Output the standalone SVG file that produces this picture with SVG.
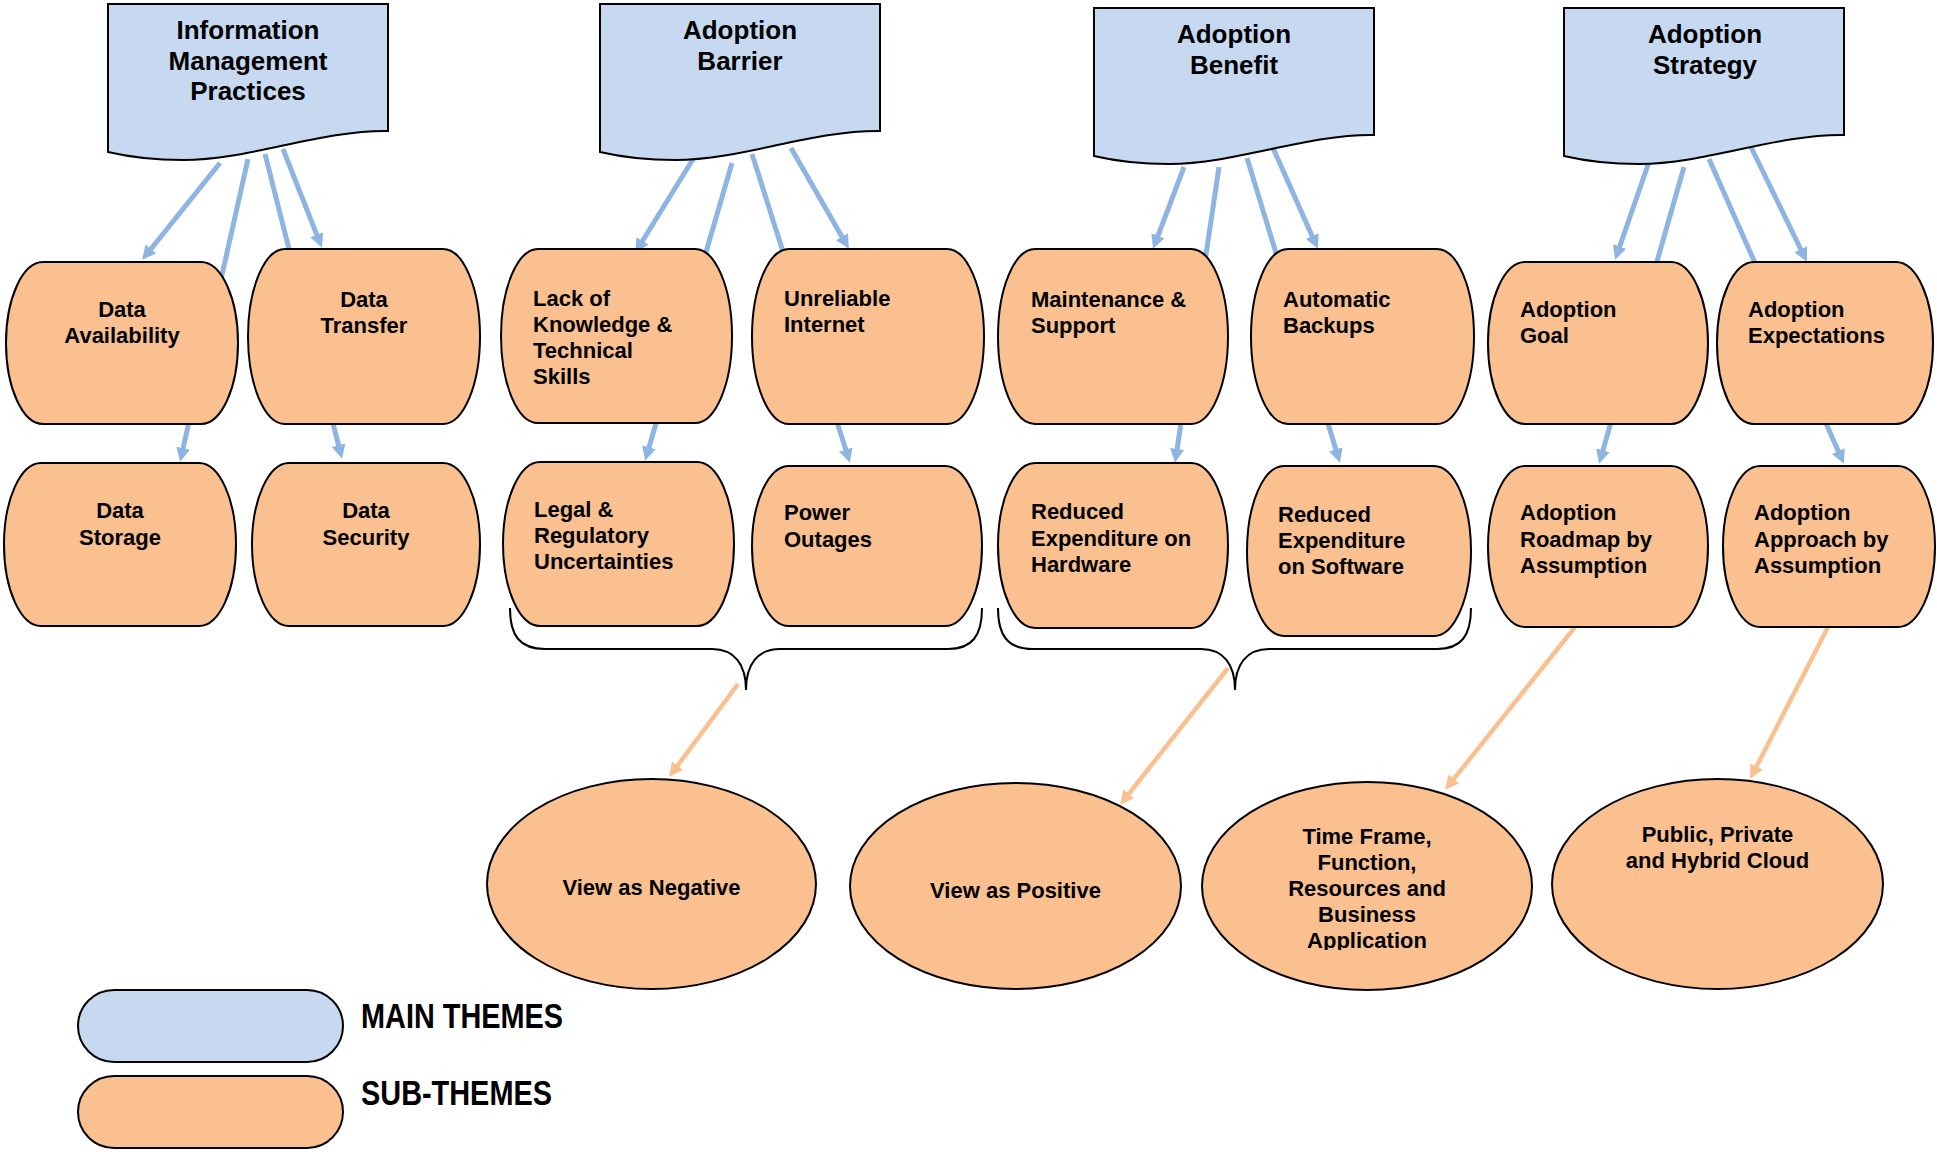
<svg xmlns="http://www.w3.org/2000/svg" width="1937" height="1152" viewBox="0 0 1937 1152">
  <style>
    .main { fill: #C6D9F1; stroke: #000; stroke-width: 2; }
    .sub { fill: #FAC090; stroke: #000; stroke-width: 2; }
    .t { font-family: "Liberation Sans", Arial, sans-serif; font-weight: bold; fill: #000; }
    .h { font-size: 26px; text-anchor: middle; }
    .s { font-size: 22px; }
    .c { text-anchor: middle; }
    .lg { font-size: 35px; }
    .blue { stroke: #8EB4E3; stroke-width: 5; fill: none; }
    .orange { stroke: #FAC090; stroke-width: 4.5; fill: none; }
    .brace { stroke: #000; stroke-width: 2; fill: none; }
  </style>
  <defs>
    <marker id="arrowBlue" viewBox="0 0 10 10" refX="3" refY="5" markerUnits="userSpaceOnUse" markerWidth="14" markerHeight="14" orient="auto">
      <path d="M0,0 L10,5 L0,10 Z" fill="#8EB4E3"/>
    </marker>
    <marker id="arrowOrange" viewBox="0 0 10 10" refX="3" refY="5" markerUnits="userSpaceOnUse" markerWidth="14" markerHeight="14" orient="auto">
      <path d="M0,0 L10,5 L0,10 Z" fill="#FAC090"/>
    </marker>
    <!-- document shape with wavy bottom -->
    <path id="doc" d="M0,0 H280 V127 C212,126 142,156 75,156 C42,156 17,152 0,148 Z"/>
    <clipPath id="clipTime">
      <rect x="1200" y="780" width="340" height="170"/>
    </clipPath>
  </defs>

  <rect width="1937" height="1152" fill="#fff"/>

  <!-- connectors (drawn under the nodes) -->
  <g id="connectors">
    <line class="blue" x1="220" y1="163" x2="148.3" y2="252.2" marker-end="url(#arrowBlue)"/>
    <line class="blue" x1="248" y1="159" x2="182.2" y2="452.2" marker-end="url(#arrowBlue)"/>
    <line class="blue" x1="265" y1="154" x2="339.6" y2="449.3" marker-end="url(#arrowBlue)"/>
    <line class="blue" x1="283" y1="149" x2="318.3" y2="238.7" marker-end="url(#arrowBlue)"/>

    <line class="blue" x1="698" y1="151" x2="640.3" y2="244.5" marker-end="url(#arrowBlue)"/>
    <line class="blue" x1="732" y1="163" x2="647.8" y2="451.4" marker-end="url(#arrowBlue)"/>
    <line class="blue" x1="752" y1="154" x2="847.0" y2="453.5" marker-end="url(#arrowBlue)"/>
    <line class="blue" x1="791" y1="148" x2="844.0" y2="240.3" marker-end="url(#arrowBlue)"/>

    <line class="blue" x1="1184" y1="167" x2="1156.5" y2="239.6" marker-end="url(#arrowBlue)"/>
    <line class="blue" x1="1219" y1="167" x2="1176.5" y2="453.1" marker-end="url(#arrowBlue)"/>
    <line class="blue" x1="1247" y1="158" x2="1337.1" y2="453.4" marker-end="url(#arrowBlue)"/>
    <line class="blue" x1="1273" y1="148" x2="1313.9" y2="239.9" marker-end="url(#arrowBlue)"/>

    <line class="blue" x1="1649" y1="162" x2="1618.3" y2="250.5" marker-end="url(#arrowBlue)"/>
    <line class="blue" x1="1684" y1="167" x2="1601.8" y2="454.4" marker-end="url(#arrowBlue)"/>
    <line class="blue" x1="1709" y1="159" x2="1840.0" y2="454.9" marker-end="url(#arrowBlue)"/>
    <line class="blue" x1="1749" y1="143" x2="1802.6" y2="253.0" marker-end="url(#arrowBlue)"/>

    <!-- braces grouping the lower pairs -->
    <path class="brace" d="M510,608 C510,636 520,649 545,649 H712 C735,649 746,665 746,690 C746,665 757,649 780,649 H948 C972,649 982,636 982,608"/>
    <path class="brace" d="M998,608 C998,636 1008,649 1033,649 H1201 C1224,649 1235,665 1235,690 C1235,665 1246,649 1269,649 H1437 C1461,649 1471,636 1471,608"/>

    <line class="orange" x1="738" y1="684" x2="675.0" y2="769.0" marker-end="url(#arrowOrange)"/>
    <line class="orange" x1="1228" y1="668" x2="1126.2" y2="797.1" marker-end="url(#arrowOrange)"/>
    <line class="orange" x1="1575" y1="627" x2="1451.2" y2="782.2" marker-end="url(#arrowOrange)"/>
    <line class="orange" x1="1828" y1="627" x2="1754.6" y2="770.1" marker-end="url(#arrowOrange)"/>
  </g>

  <!-- main themes -->
  <g id="info-management">
    <use href="#doc" class="main" transform="translate(108,4)"/>
    <text class="t h" x="248" y="39">Information</text>
    <text class="t h" x="248" y="70">Management</text>
    <text class="t h" x="248" y="100">Practices</text>
  </g>
  <g id="adoption-barrier">
    <use href="#doc" class="main" transform="translate(600,4)"/>
    <text class="t h" x="740" y="39">Adoption</text>
    <text class="t h" x="740" y="70">Barrier</text>
  </g>
  <g id="adoption-benefit">
    <use href="#doc" class="main" transform="translate(1094,8)"/>
    <text class="t h" x="1234" y="43">Adoption</text>
    <text class="t h" x="1234" y="74">Benefit</text>
  </g>
  <g id="adoption-strategy">
    <use href="#doc" class="main" transform="translate(1564,8)"/>
    <text class="t h" x="1705" y="43">Adoption</text>
    <text class="t h" x="1705" y="74">Strategy</text>
  </g>

  <!-- sub-themes -->
  <g id="data-availability">
    <rect class="sub" x="6" y="262" width="232" height="162" rx="37" ry="100"/>
    <text class="t s c" x="122" y="317">Data</text>
    <text class="t s c" x="122" y="343">Availability</text>
  </g>
  <g id="data-transfer">
    <rect class="sub" x="248" y="249" width="232" height="175" rx="37" ry="100"/>
    <text class="t s c" x="364" y="307">Data</text>
    <text class="t s c" x="364" y="333">Transfer</text>
  </g>
  <g id="data-storage">
    <rect class="sub" x="4" y="463" width="232" height="163" rx="37" ry="100"/>
    <text class="t s c" x="120" y="518">Data</text>
    <text class="t s c" x="120" y="545">Storage</text>
  </g>
  <g id="data-security">
    <rect class="sub" x="252" y="463" width="228" height="163" rx="37" ry="100"/>
    <text class="t s c" x="366" y="518">Data</text>
    <text class="t s c" x="366" y="545">Security</text>
  </g>

  <g id="lack-of-knowledge">
    <rect class="sub" x="501" y="249" width="231" height="174" rx="37" ry="100"/>
    <text class="t s" x="533" y="306">Lack of</text>
    <text class="t s" x="533" y="332">Knowledge &amp;</text>
    <text class="t s" x="533" y="358">Technical</text>
    <text class="t s" x="533" y="384">Skills</text>
  </g>
  <g id="unreliable-internet">
    <rect class="sub" x="752" y="249" width="232" height="175" rx="37" ry="100"/>
    <text class="t s" x="784" y="306">Unreliable</text>
    <text class="t s" x="784" y="332">Internet</text>
  </g>
  <g id="legal-regulatory">
    <rect class="sub" x="503" y="462" width="231" height="164" rx="37" ry="100"/>
    <text class="t s" x="534" y="517">Legal &amp;</text>
    <text class="t s" x="534" y="543">Regulatory</text>
    <text class="t s" x="534" y="569">Uncertainties</text>
  </g>
  <g id="power-outages">
    <rect class="sub" x="752" y="466" width="230" height="160" rx="37" ry="100"/>
    <text class="t s" x="784" y="520">Power</text>
    <text class="t s" x="784" y="547">Outages</text>
  </g>

  <g id="maintenance-support">
    <rect class="sub" x="998" y="249" width="230" height="175" rx="37" ry="100"/>
    <text class="t s" x="1031" y="307">Maintenance &amp;</text>
    <text class="t s" x="1031" y="333">Support</text>
  </g>
  <g id="automatic-backups">
    <rect class="sub" x="1251" y="249" width="223" height="175" rx="37" ry="100"/>
    <text class="t s" x="1283" y="307">Automatic</text>
    <text class="t s" x="1283" y="333">Backups</text>
  </g>
  <g id="reduced-hardware">
    <rect class="sub" x="998" y="463" width="230" height="165" rx="37" ry="100"/>
    <text class="t s" x="1031" y="519">Reduced</text>
    <text class="t s" x="1031" y="546">Expenditure on</text>
    <text class="t s" x="1031" y="572">Hardware</text>
  </g>
  <g id="reduced-software">
    <rect class="sub" x="1247" y="466" width="224" height="170" rx="37" ry="100"/>
    <text class="t s" x="1278" y="522">Reduced</text>
    <text class="t s" x="1278" y="548">Expenditure</text>
    <text class="t s" x="1278" y="574">on Software</text>
  </g>

  <g id="adoption-goal">
    <rect class="sub" x="1488" y="262" width="220" height="162" rx="37" ry="100"/>
    <text class="t s" x="1520" y="317">Adoption</text>
    <text class="t s" x="1520" y="343">Goal</text>
  </g>
  <g id="adoption-expectations">
    <rect class="sub" x="1717" y="262" width="216" height="162" rx="37" ry="100"/>
    <text class="t s" x="1748" y="317">Adoption</text>
    <text class="t s" x="1748" y="343">Expectations</text>
  </g>
  <g id="adoption-roadmap">
    <rect class="sub" x="1488" y="466" width="220" height="161" rx="37" ry="100"/>
    <text class="t s" x="1520" y="520">Adoption</text>
    <text class="t s" x="1520" y="547">Roadmap by</text>
    <text class="t s" x="1520" y="573">Assumption</text>
  </g>
  <g id="adoption-approach">
    <rect class="sub" x="1723" y="466" width="212" height="161" rx="37" ry="100"/>
    <text class="t s" x="1754" y="520">Adoption</text>
    <text class="t s" x="1754" y="547">Approach by</text>
    <text class="t s" x="1754" y="573">Assumption</text>
  </g>

  <!-- outcomes -->
  <g id="view-negative">
    <ellipse class="sub" cx="651.5" cy="884" rx="164.5" ry="105"/>
    <text class="t s c" x="651.5" y="895">View as Negative</text>
  </g>
  <g id="view-positive">
    <ellipse class="sub" cx="1015.5" cy="886" rx="165.5" ry="103"/>
    <text class="t s c" x="1015.5" y="898">View as Positive</text>
  </g>
  <g id="time-frame">
    <ellipse class="sub" cx="1367" cy="886" rx="165" ry="104"/>
    <g clip-path="url(#clipTime)">
      <text class="t s c" x="1367" y="844">Time Frame,</text>
      <text class="t s c" x="1367" y="870">Function,</text>
      <text class="t s c" x="1367" y="896">Resources and</text>
      <text class="t s c" x="1367" y="922">Business</text>
      <text class="t s c" x="1367" y="948">Application</text>
    </g>
  </g>
  <g id="cloud-types">
    <ellipse class="sub" cx="1717.5" cy="884" rx="165.5" ry="105"/>
    <text class="t s c" x="1717.5" y="842">Public, Private</text>
    <text class="t s c" x="1717.5" y="868">and Hybrid Cloud</text>
  </g>

  <!-- legend -->
  <g id="legend-main">
    <rect class="main" x="78" y="990" width="265" height="72" rx="36" ry="36"/>
    <text class="t lg" x="361" y="1028" textLength="202" lengthAdjust="spacingAndGlyphs">MAIN THEMES</text>
  </g>
  <g id="legend-sub">
    <rect class="sub" x="78" y="1076" width="265" height="72" rx="36" ry="36"/>
    <text class="t lg" x="361" y="1105" textLength="191" lengthAdjust="spacingAndGlyphs">SUB-THEMES</text>
  </g>
</svg>
